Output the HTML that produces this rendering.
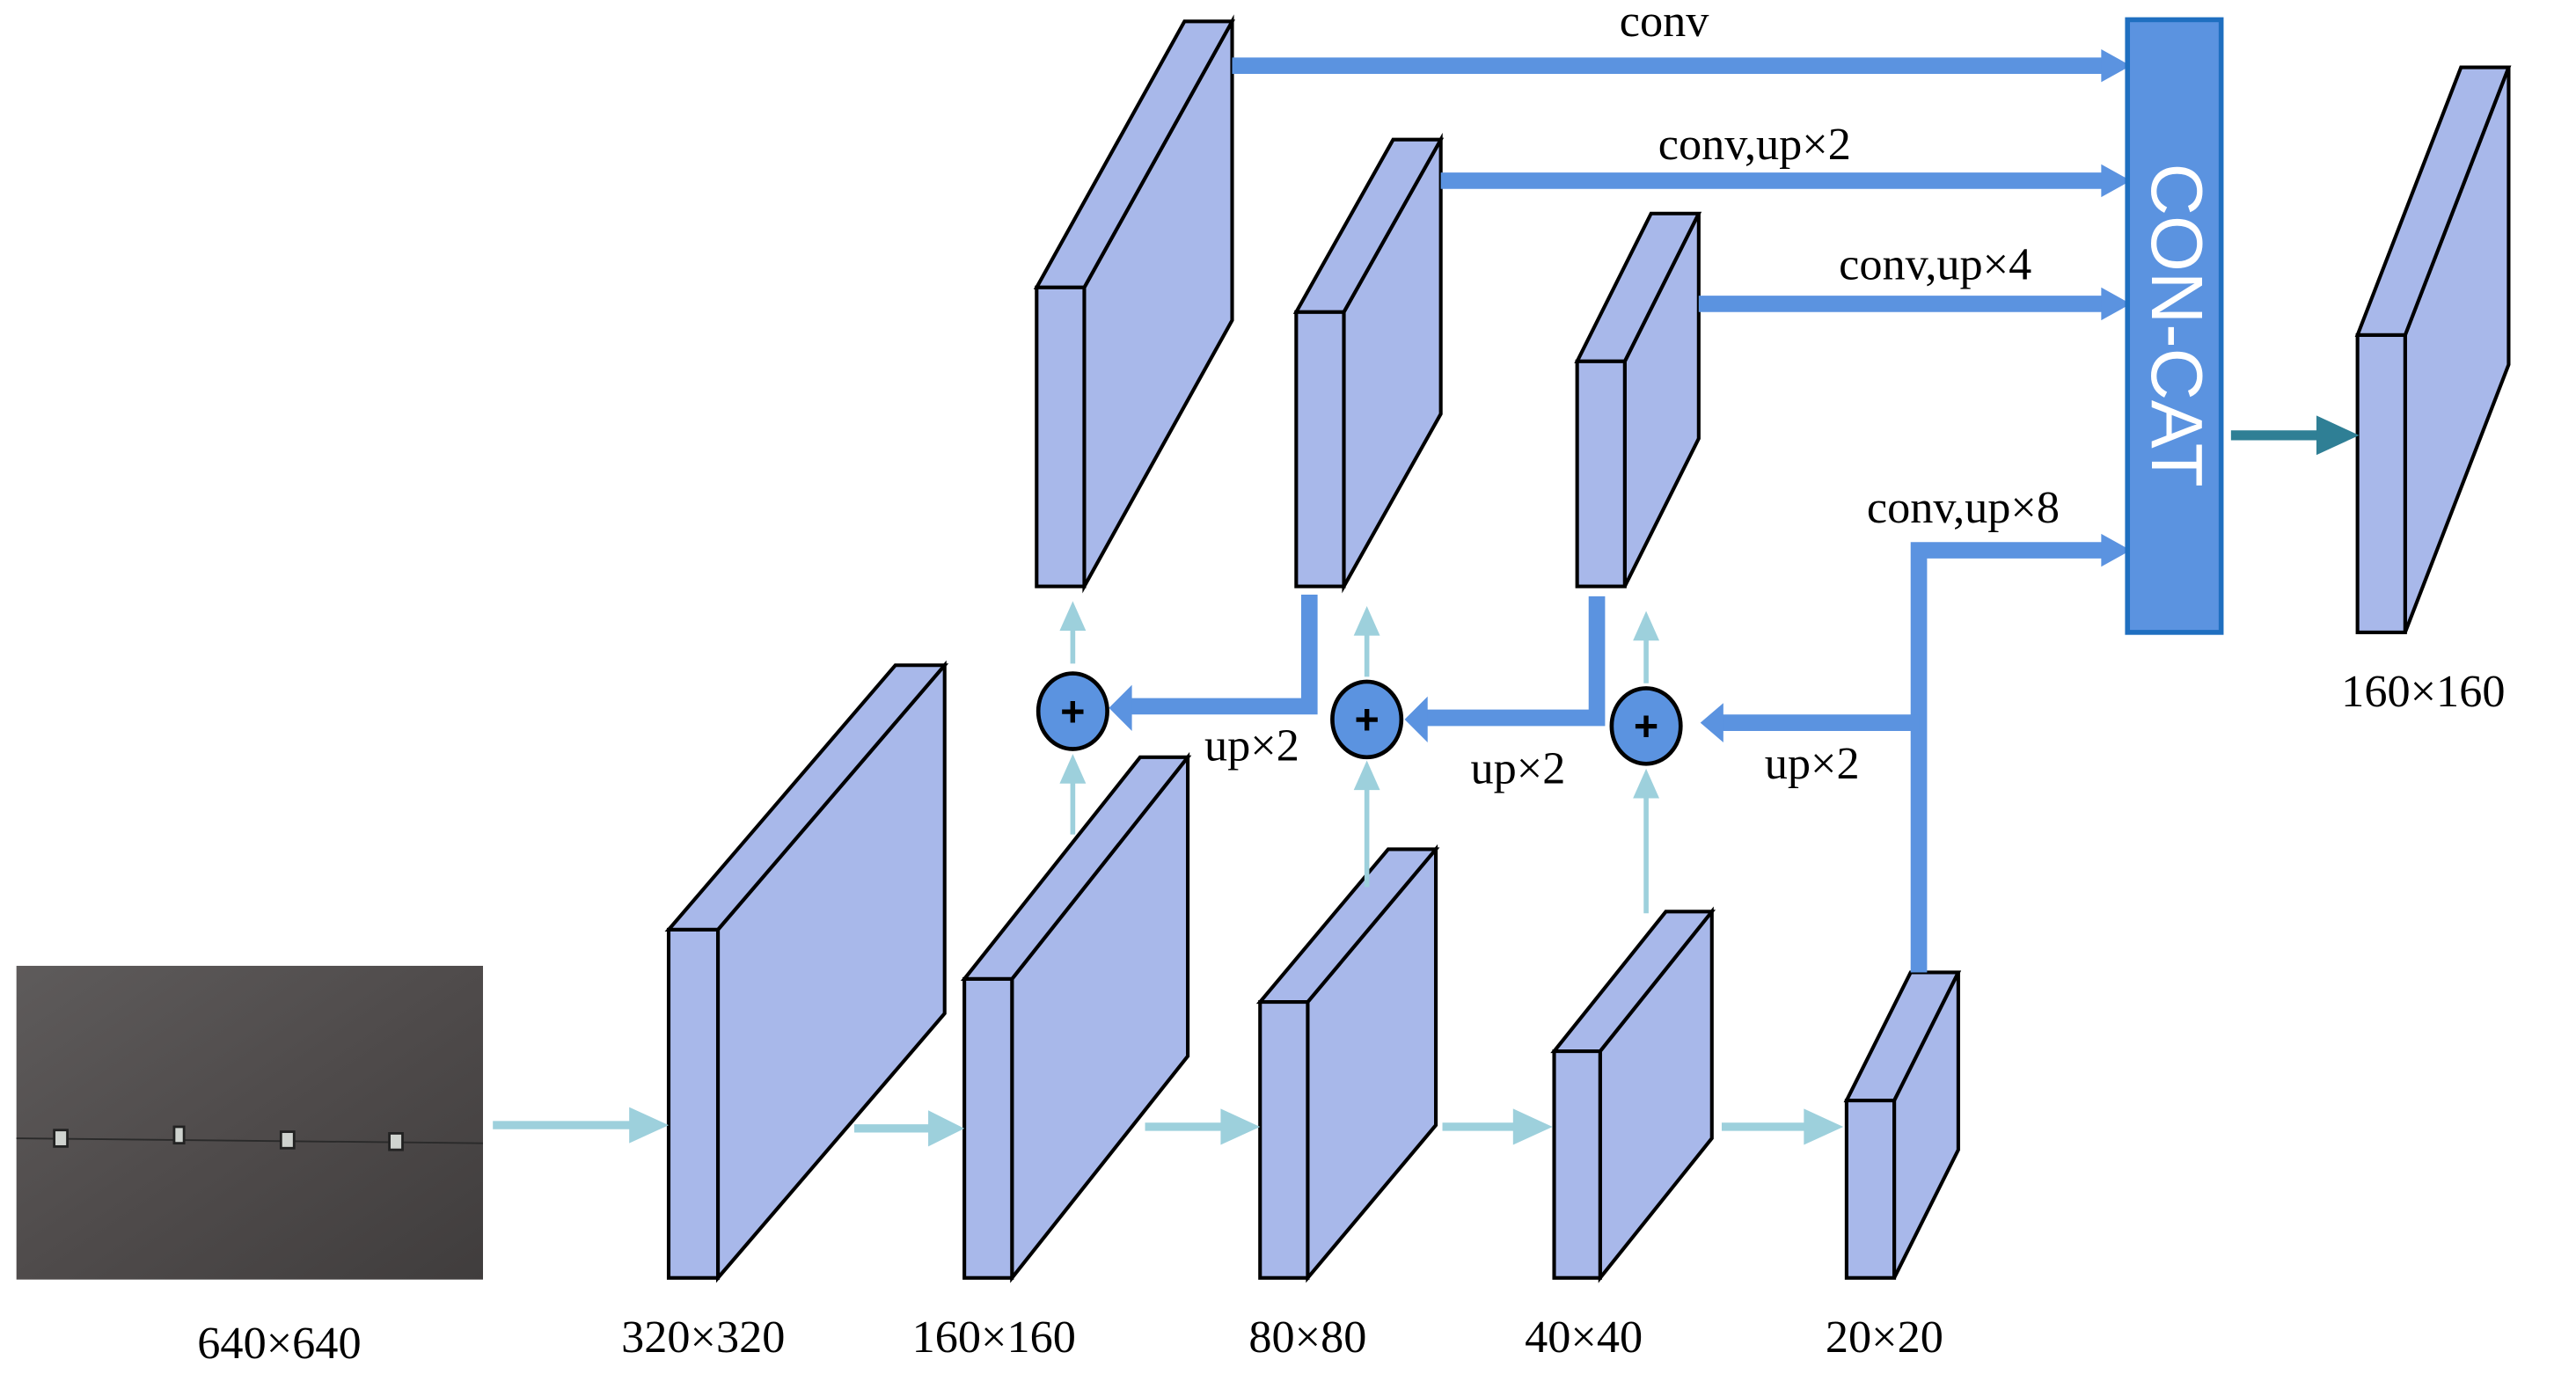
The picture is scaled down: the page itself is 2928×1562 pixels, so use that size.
<!DOCTYPE html>
<html><head><meta charset="utf-8"><style>
html,body{margin:0;padding:0;background:#fff;}
svg{display:block;}
text{font-family:"Liberation Serif",serif;fill:#000;}
</style></head><body>
<svg width="2928" height="1562" viewBox="0 0 1568 836.5" preserveAspectRatio="none" xmlns="http://www.w3.org/2000/svg">
<defs>
<linearGradient id="ph" x1="0" y1="0" x2="1" y2="1">
<stop offset="0" stop-color="#5e5b5b"/><stop offset="0.5" stop-color="#4f4b4b"/><stop offset="1" stop-color="#403d3d"/>
</linearGradient>
</defs>
<!-- photo -->
<rect x="10" y="588" width="284" height="191" fill="url(#ph)"/>
<line x1="10" y1="693" x2="294" y2="696" stroke="#2a2a2a" stroke-width="1"/>
<g fill="#cfd3cf" stroke="#222" stroke-width="1.5">
<rect x="33" y="688" width="8" height="10"/><rect x="106" y="686" width="6" height="10"/>
<rect x="171" y="689" width="8" height="10"/><rect x="237" y="690" width="8" height="10"/>
</g>

<g stroke="#000" stroke-width="2.2" fill="#a8b8ea" stroke-linejoin="miter">
<polygon points="660,175 750,13 750,195 660,357"/><polygon points="631,175 721,13 750,13 660,175"/><rect x="631" y="175" width="29" height="182"/>
<polygon points="818,190 877,85 877,252 818,357"/><polygon points="789,190 848,85 877,85 818,190"/><rect x="789" y="190" width="29" height="167"/>
<polygon points="989,220 1034,130 1034,267 989,357"/><polygon points="960,220 1005,130 1034,130 989,220"/><rect x="960" y="220" width="29" height="137"/>
<polygon points="437,566 575,405 575,617 437,778"/><polygon points="407,566 545,405 575,405 437,566"/><rect x="407" y="566" width="30" height="212"/>
<polygon points="616,596 723,461 723,643 616,778"/><polygon points="587,596 694,461 723,461 616,596"/><rect x="587" y="596" width="29" height="182"/>
<polygon points="796,610 874,517 874,685 796,778"/><polygon points="767,610 845,517 874,517 796,610"/><rect x="767" y="610" width="29" height="168"/>
<polygon points="974,640 1042,555 1042,693 974,778"/><polygon points="946,640 1014,555 1042,555 974,640"/><rect x="946" y="640" width="28" height="138"/>
<polygon points="1153,670 1192,592 1192,700 1153,778"/><polygon points="1124,670 1163,592 1192,592 1153,670"/><rect x="1124" y="670" width="29" height="108"/>
<polygon points="1464,204 1527,41 1527,222 1464,385"/><polygon points="1435,204 1498,41 1527,41 1464,204"/><rect x="1435" y="204" width="29" height="181"/>
</g>

<g stroke="#9dd0dc" stroke-width="5" fill="none">
<line x1="300" y1="685" x2="385" y2="685"/><line x1="520" y1="687" x2="567" y2="687"/>
<line x1="697" y1="686" x2="745" y2="686"/><line x1="878" y1="686" x2="923" y2="686"/>
<line x1="1048" y1="686" x2="1100" y2="686"/>
</g>
<g stroke="#9dd0dc" stroke-width="3" fill="none">
<line x1="653" y1="404" x2="653" y2="382"/><line x1="653" y1="508" x2="653" y2="475"/>
<line x1="832" y1="412" x2="832" y2="385"/><line x1="832" y1="540" x2="832" y2="480"/>
<line x1="1002" y1="416" x2="1002" y2="388"/><line x1="1002" y1="556" x2="1002" y2="485"/>
</g>
<g fill="#9dd0dc">
<polygon points="407,685 383,674 383,696"/><polygon points="587,687 565,676 565,698"/>
<polygon points="767,686 743,675 743,697"/><polygon points="945,686 921,675 921,697"/>
<polygon points="1122,686 1098,675 1098,697"/>
<polygon points="653,366 645,384 661,384"/><polygon points="653,459 645,477 661,477"/>
<polygon points="832,369 824,387 840,387"/><polygon points="832,463 824,481 840,481"/>
<polygon points="1002,372 994,390 1010,390"/><polygon points="1002,468 994,486 1010,486"/>
</g>

<g stroke="#5b93e0" stroke-width="10" fill="none">
<line x1="750" y1="40" x2="1282" y2="40"/>
<line x1="877" y1="110" x2="1282" y2="110"/>
<line x1="1034" y1="185" x2="1282" y2="185"/>
<polyline points="1168,592 1168,335 1282,335"/>
<polyline points="797,362 797,430 688,430"/>
<polyline points="972,363 972,437 867,437"/>
<line x1="1168" y1="440" x2="1047" y2="440"/>
</g>
<g fill="#5b93e0">
<polygon points="1297,40 1279,30 1279,50"/><polygon points="1297,110 1279,100 1279,120"/>
<polygon points="1297,185 1279,175 1279,195"/><polygon points="1297,335 1279,325 1279,345"/>
<polygon points="675,431 689,417 689,445"/><polygon points="855,438 869,424 869,452"/>
<polygon points="1035,440 1049,428 1049,452"/>
</g>

<g stroke="#000" stroke-width="2.5" fill="#5b93e0">
<ellipse cx="653" cy="433" rx="21" ry="23"/><ellipse cx="832" cy="438" rx="21" ry="23"/><ellipse cx="1002" cy="442" rx="21" ry="23"/>
</g>
<g font-size="26" text-anchor="middle" font-weight="bold">
<text x="653" y="442" style="font-family:'Liberation Sans',sans-serif">+</text>
<text x="832" y="447" style="font-family:'Liberation Sans',sans-serif">+</text>
<text x="1002" y="451" style="font-family:'Liberation Sans',sans-serif">+</text>
</g>

<rect x="1295" y="12" width="57" height="373" fill="#5b93e0" stroke="#1f6fc0" stroke-width="3"/>
<text transform="translate(1310,198) rotate(90)" text-anchor="middle" font-size="44" style="font-family:'Liberation Sans',sans-serif;fill:#fff">CON-CAT</text>

<line x1="1358" y1="265" x2="1412" y2="265" stroke="#2f7f95" stroke-width="6"/>
<polygon points="1436,265 1410,253 1410,277" fill="#2f7f95"/>

<g font-size="28" text-anchor="middle">
<text x="1013" y="22">conv</text>
<text x="1068" y="97">conv,up×2</text>
<text x="1178" y="170">conv,up×4</text>
<text x="1195" y="318">conv,up×8</text>
<text x="762" y="463">up×2</text>
<text x="924" y="477">up×2</text>
<text x="1103" y="474">up×2</text>
<text x="170" y="827">640×640</text>
<text x="428" y="823">320×320</text>
<text x="605" y="823">160×160</text>
<text x="796" y="823">80×80</text>
<text x="964" y="823">40×40</text>
<text x="1147" y="823">20×20</text>
<text x="1475" y="430">160×160</text>
</g>
</svg>
</body></html>
